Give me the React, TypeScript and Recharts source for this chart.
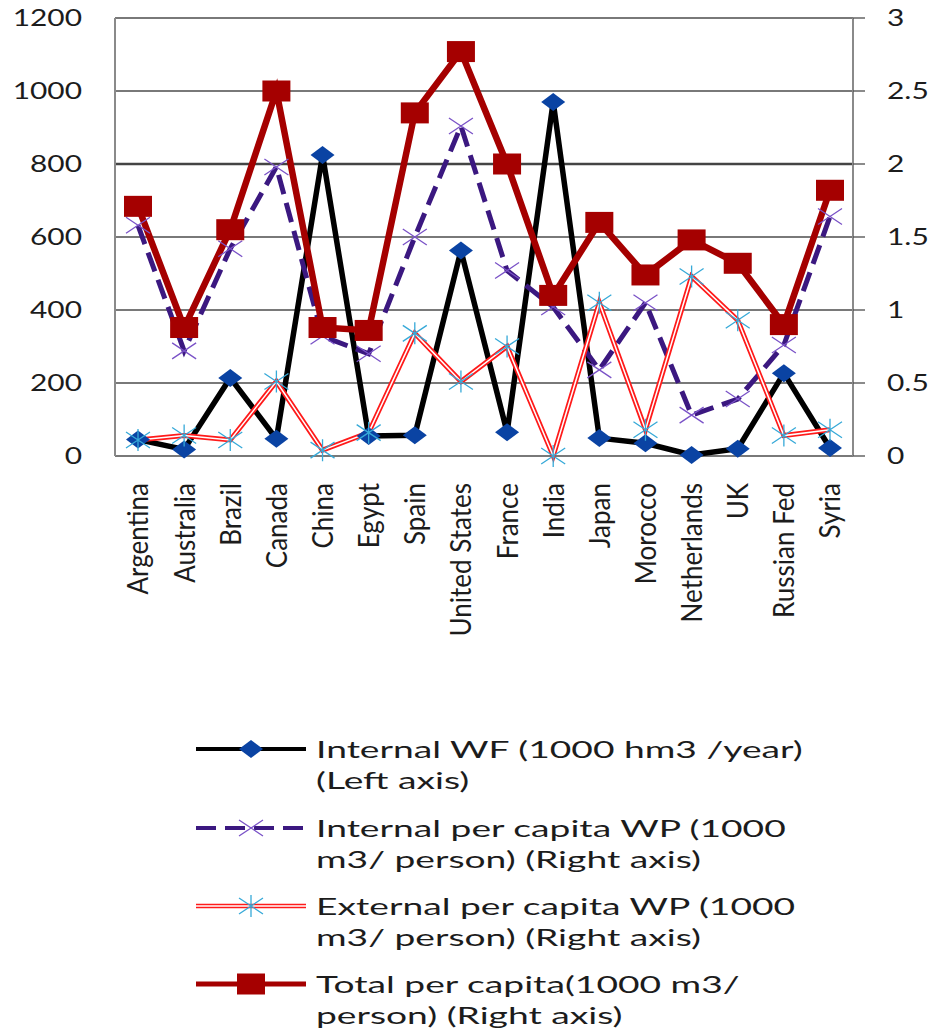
import React from 'react';
import { ComposedChart, Line, XAxis, YAxis, CartesianGrid, Legend, ReferenceLine } from 'recharts';

const categories = ['Argentina', 'Australia', 'Brazil', 'Canada', 'China', 'Egypt', 'Spain', 'United States', 'France', 'India', 'Japan', 'Morocco', 'Netherlands', 'UK', 'Russian Fed', 'Syria'];
const internalWF = [45, 18, 214, 47, 825, 55, 57, 563, 65, 970, 49, 35, 3, 20, 227, 22];
const internalPerCapita = [1.58, 0.72, 1.42, 1.98, 0.82, 0.7, 1.5, 2.26, 1.27, 1.02, 0.59, 1.05, 0.28, 0.39, 0.76, 1.64];
const externalPerCapita = [0.11, 0.14, 0.11, 0.51, 0.04, 0.16, 0.84, 0.51, 0.75, 0.0, 1.05, 0.18, 1.23, 0.93, 0.14, 0.18];
const totalPerCapita = [1.71, 0.88, 1.55, 2.5, 0.88, 0.86, 2.35, 2.77, 2.0, 1.1, 1.6, 1.24, 1.48, 1.32, 0.9, 1.82];
const leftTicks = [0, 200, 400, 600, 800, 1000, 1200];
const rightTicks = [0, 0.5, 1, 1.5, 2, 2.5, 3];
const legendLabels = [
  ['Internal WF (1000 hm3 /year)', '(Left axis)'],
  ['Internal per capita WP (1000', 'm3/ person) (Right axis)'],
  ['External per capita WP (1000', 'm3/ person) (Right axis)'],
  ['Total per capita(1000 m3/', 'person) (Right axis)'],
];

const data = categories.map((c, i) => ({
  country: c,
  internalWF: internalWF[i],
  internalPC: internalPerCapita[i],
  externalPC: externalPerCapita[i],
  totalPC: totalPerCapita[i],
}));

const C = {
  black: '#000000',
  diamond: '#0a43a3',
  purple: '#3b1880',
  purpleMark: '#7a52c7',
  red: '#ff1a1a',
  cyan: '#36a9d8',
  dark: '#a50000',
  grid: '#4d4d4d',
  axis: '#8a8a8a',
  text: '#1c1c1c',
};
const FONT = 'Lato, "Open Sans", sans-serif';

const Diamond = ({ cx, cy }: any) =>
  cx == null ? null : (
    <polygon points={`${cx - 12},${cy} ${cx},${cy - 9} ${cx + 12},${cy} ${cx},${cy + 9}`} fill={C.diamond} />
  );
const XMark = ({ cx, cy }: any) =>
  cx == null ? null : (
    <path d={`M${cx - 12},${cy - 8}L${cx + 12},${cy + 8}M${cx - 12},${cy + 8}L${cx + 12},${cy - 8}`} stroke={C.purpleMark} strokeWidth={1.3} fill="none" />
  );
const Star = ({ cx, cy }: any) =>
  cx == null ? null : (
    <path d={`M${cx - 12},${cy - 8}L${cx + 12},${cy + 8}M${cx - 12},${cy + 8}L${cx + 12},${cy - 8}M${cx},${cy - 11}L${cx},${cy + 11}`} stroke={C.cyan} strokeWidth={1.3} fill="none" />
  );
const Square = ({ cx, cy }: any) =>
  cx == null ? null : <rect x={cx - 14} y={cy - 10.5} width={28} height={21} fill={C.dark} />;

const LeftTick = ({ x, y, payload }: any) => (
  <text transform={`translate(${x},${y}) scale(1.3,1)`} textAnchor="end" dy="0.36em" fontFamily={FONT} fontSize={23} fill={C.text}>
    {payload.value}
  </text>
);
const RightTick = ({ x, y, payload }: any) => (
  <text transform={`translate(${x},${y}) scale(1.3,1)`} textAnchor="start" dy="0.36em" fontFamily={FONT} fontSize={23} fill={C.text}>
    {payload.value}
  </text>
);
const XTick = ({ x, y, payload }: any) => (
  <text transform={`translate(${x},${y}) scale(1.12,1) rotate(-90)`} textAnchor="end" dy="0.36em" fontFamily={FONT} fontSize={26} fill={C.text}>
    {payload.value}
  </text>
);

const LegendContent = () => {
  const rows = [24, 103, 181, 259];
  const x1 = 11;
  const x2 = 121;
  const mx = 66;
  return (
    <svg width={720} height={306} style={{ display: 'block', overflow: 'visible' }}>
      {rows.map((ry, i) => (
        <g key={i}>
          {i === 0 && (
            <>
              <line x1={x1} x2={x2} y1={ry} y2={ry} stroke={C.black} strokeWidth={4} />
              <Diamond cx={mx} cy={ry} />
            </>
          )}
          {i === 1 && (
            <>
              <line x1={x1} x2={x2} y1={ry} y2={ry} stroke={C.purple} strokeWidth={4} strokeDasharray="20 9" />
              <XMark cx={mx} cy={ry} />
            </>
          )}
          {i === 2 && (
            <>
              <line x1={x1} x2={x2} y1={ry} y2={ry} stroke={C.red} strokeWidth={4.5} />
              <line x1={x1} x2={x2} y1={ry} y2={ry} stroke="#ffffff" strokeWidth={1.4} />
              <Star cx={mx} cy={ry} />
            </>
          )}
          {i === 3 && (
            <>
              <line x1={x1} x2={x2} y1={ry} y2={ry} stroke={C.dark} strokeWidth={5} />
              <Square cx={mx} cy={ry} />
            </>
          )}
          {legendLabels[i].map((t, j) => (
            <text key={j} transform={`translate(131,${ry + j * 31}) scale(1.55,1)`} dy="0.36em" fontFamily={FONT} fontSize={24} fill={C.text}>
              {t}
            </text>
          ))}
        </g>
      ))}
    </svg>
  );
};

export default function App() {
  return (
    <div style={{ position: 'absolute', left: 0, top: 0, width: 934, height: 1031, background: '#fff' }}>
      <ComposedChart width={934} height={1031} data={data} margin={{ top: 18, right: 0, bottom: 0, left: 0 }}>
        <CartesianGrid yAxisId="left" vertical={false} stroke={C.grid} strokeWidth={1.3} />
        <XAxis dataKey="country" interval={0} height={575} padding={{ left: 23, right: 23 }} tickSize={0} tickMargin={27} axisLine={false} tickLine={false} tick={<XTick />} />
        <YAxis yAxisId="left" orientation="left" width={115} domain={[0, 1200]} ticks={leftTicks} tickSize={0} tickMargin={33} tickLine={false} axisLine={{ stroke: C.axis, strokeWidth: 2 }} tick={<LeftTick />} />
        <YAxis yAxisId="right" orientation="right" width={81} domain={[0, 3]} ticks={rightTicks} tickSize={12} tickMargin={22} tickLine={{ stroke: C.grid, strokeWidth: 1.3 }} axisLine={{ stroke: C.axis, strokeWidth: 2 }} tick={<RightTick />} />
        <ReferenceLine yAxisId="left" y={800} stroke="#444444" strokeWidth={2.5} />
        <Line yAxisId="left" dataKey="internalWF" stroke={C.black} strokeWidth={5.5} isAnimationActive={false}
          dot={(p: any) => <Diamond key={`wf-${p.index}`} cx={p.cx} cy={p.cy} />} activeDot={false} />
        <Line yAxisId="right" dataKey="internalPC" stroke={C.purple} strokeWidth={5} strokeDasharray="20 9" isAnimationActive={false}
          dot={(p: any) => <XMark key={`ipc-${p.index}`} cx={p.cx} cy={p.cy} />} activeDot={false} />
        <Line yAxisId="right" dataKey="externalPC" stroke={C.red} strokeWidth={5} isAnimationActive={false} dot={false} activeDot={false} />
        <Line yAxisId="right" dataKey="externalPC" stroke="#ffffff" strokeWidth={1.5} isAnimationActive={false}
          dot={(p: any) => <Star key={`epc-${p.index}`} cx={p.cx} cy={p.cy} />} activeDot={false} legendType="none" />
        <Line yAxisId="right" dataKey="totalPC" stroke={C.dark} strokeWidth={6.5} isAnimationActive={false}
          dot={(p: any) => <Square key={`tpc-${p.index}`} cx={p.cx} cy={p.cy} />} activeDot={false} />
        <Legend layout="horizontal" verticalAlign="middle" align="center" width={720} height={306}
          wrapperStyle={{ top: 725, left: 185, width: 720, height: 306 }} content={() => <LegendContent />} />
      </ComposedChart>
    </div>
  );
}
